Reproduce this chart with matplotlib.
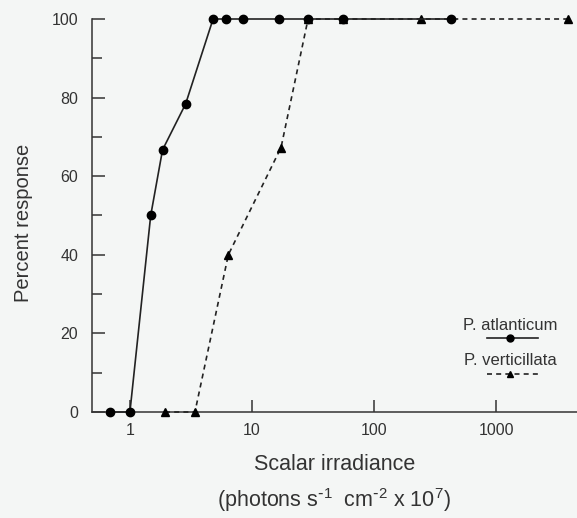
import matplotlib
matplotlib.use('Agg')
import matplotlib.pyplot as plt
from matplotlib.lines import Line2D

# P. atlanticum (circles, solid)
atl_x = [0.69, 1.0, 1.48, 1.85, 2.86, 4.8, 6.1, 8.4, 16.7, 28.8, 55.7, 427]
atl_y = [0, 0, 50, 66.7, 78.4, 100, 100, 100, 100, 100, 100, 100]

# P. verticillata (triangles, dashed)
ver_x = [1.94, 3.41, 6.4, 17.3, 28.8, 55.7, 243, 3890]
ver_y = [0, 0, 40, 67.3, 100, 100, 100, 100]

xticks = [1, 10, 100, 1000]
xticklabels = ['1', '10', '100', '1000']
yticks = [0, 20, 40, 60, 80, 100]

plt.rcParams['font.family'] = ['Liberation Sans', 'DejaVu Sans']
plt.rcParams['mathtext.default'] = 'regular'

bg = '#f4f6f5'
fig = plt.figure(figsize=(5.77, 5.18), dpi=100, facecolor=bg)
ax = fig.add_axes([92 / 577, 1 - 412 / 518, 485 / 577, 393 / 518])
ax.set_facecolor(bg)

ax.plot(ver_x, ver_y, color='#222222', lw=1.2, ls=(0, (3, 2.5)),
        marker='^', ms=6, mfc='black', mec='black', clip_on=False, zorder=3)
ax.plot(atl_x, atl_y, color='#222222', lw=1.2, ls='-',
        marker='o', ms=6, mfc='black', mec='black', clip_on=False, zorder=4)

ax.set_xscale('log')
ax.set_xlim(0.489, 4600)
ax.set_ylim(0, 100)
ax.set_xticks(xticks)
ax.set_xticklabels(xticklabels)
ax.xaxis.set_minor_locator(matplotlib.ticker.NullLocator())
ax.set_yticks(yticks)
ax.set_yticks([10, 30, 50, 70, 90], minor=True)

for s in ['top', 'right']:
    ax.spines[s].set_visible(False)
for s in ['left', 'bottom']:
    ax.spines[s].set_color('#333333')
    ax.spines[s].set_linewidth(1.1)

ax.tick_params(axis='both', which='major', direction='in', length=9, width=1.1,
               labelsize=11.5, colors='#333333', labelcolor='#333333')
ax.tick_params(axis='y', which='minor', direction='in', length=7, width=1.1,
               colors='#333333')
ax.tick_params(axis='y', pad=10)
ax.tick_params(axis='x', pad=8)

fig.text(24 / 577, 1 - 223 / 518, 'Percent response', fontsize=14.5,
         color='#333333', ha='center', va='center', rotation=90)

fig.text(335 / 577, 1 - 465 / 518, 'Scalar irradiance', fontsize=15.5,
         color='#333333', ha='center', va='center')
fig.text(334 / 577, 1 - 500 / 518,
         r'(photons s$^{\text{-}1}$  cm$^{\text{-}2}$ x 10$^{7}$)', fontsize=15.5,
         color='#333333', ha='center', va='center')

# legend drawn by hand: label above each line sample
ax.text(0.862, 0.219, 'P. atlanticum', transform=ax.transAxes, fontsize=12,
        color='#333333', ha='center', va='center')
ax.add_line(Line2D([0.814, 0.920], [0.189, 0.189], transform=ax.transAxes,
                   color='#222222', lw=1.2, ls='-'))
ax.add_line(Line2D([0.862], [0.189], transform=ax.transAxes, marker='o',
                   ms=5, color='black', ls='none'))
ax.text(0.862, 0.132, 'P. verticillata', transform=ax.transAxes, fontsize=12,
        color='#333333', ha='center', va='center')
ax.add_line(Line2D([0.814, 0.920], [0.097, 0.097], transform=ax.transAxes,
                   color='#222222', lw=1.2, ls=(0, (3, 2.5))))
ax.add_line(Line2D([0.862], [0.097], transform=ax.transAxes, marker='^',
                   ms=5, color='black', ls='none'))

fig.savefig('out.png', dpi=100, facecolor=bg)
